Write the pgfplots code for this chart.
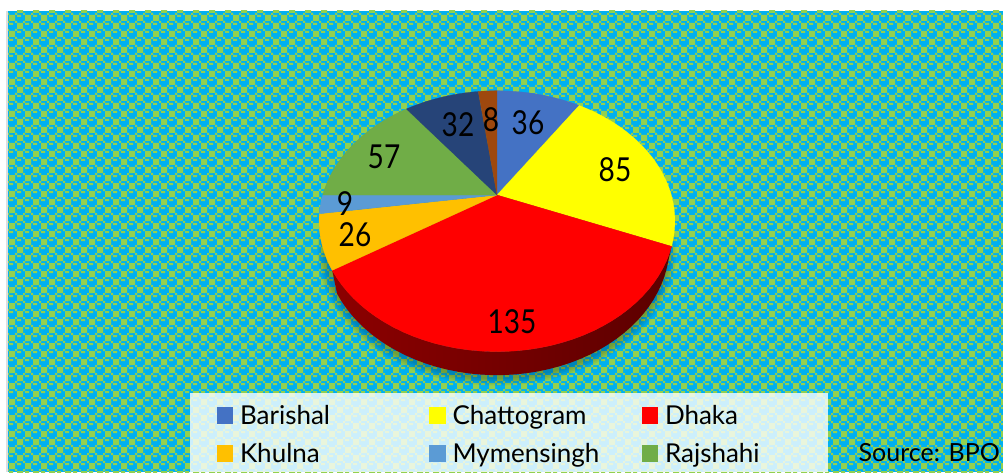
\documentclass[border=0pt]{standalone}
\usepackage{pgfplots}
\usepackage{pgfplotstable}
\usepackage{fontspec}
\pgfplotsset{compat=1.18}
\setmainfont[FakeStretch=0.85]{Lato}
\newfontfamily\legfont{Lato}
\definecolor{pblue}{HTML}{00B0F0}
\definecolor{pgreen}{HTML}{92D050}
\definecolor{cA}{HTML}{4472C4}
\definecolor{cB}{HTML}{FFFF00}
\definecolor{cC}{HTML}{FF0000}
\definecolor{cD}{HTML}{FFC000}
\definecolor{cE}{HTML}{5B9BD5}
\definecolor{cF}{HTML}{70AD47}
\definecolor{cG}{HTML}{264478}
\definecolor{cH}{HTML}{9E480E}
\newcount\TX \newcount\TY
% one rectangle of the background tile, image pixels, y down, relative to a big square
\newcommand{\tr}[4]{\pgfpathrectangle{\pgfpoint{\dimexpr\numexpr\TX+#1\relax pt\relax}{\dimexpr\numexpr472-\TY-#2-#4\relax pt\relax}}{\pgfpoint{#3pt}{#4pt}}}
\newcommand{\tile}{\tr{0}{0}{6}{6}\tr{8}{8}{6}{6}\tr{6}{6}{2}{2}\tr{14}{14}{2}{2}\tr{6}{14}{2}{2}\tr{14}{6}{2}{2}\tr{8}{0}{4}{2}\tr{0}{8}{4}{2}}
% slice angles accumulate from 12 o'clock; total of the values = 388
\newcommand{\pieX}[3]{#1*174.3*sin(#2)/(1+0.2007*cos(#2))+497}
\newcommand{\pieY}[3]{#3+195-#1*125.2*cos(#2)/(1+0.2007*cos(#2))}
\newcommand{\cum}{0}
\newcommand{\slice}[3][]{%
  \pgfmathsetmacro{\aS}{\cum/388*360}%
  \pgfmathsetmacro{\newcum}{\cum+#2}%
  \pgfmathsetmacro{\aE}{\newcum/388*360}%
  \global\let\cum\newcum
  \edef\doit{\noexpand\addplot[fill=#3,draw=#3,line width=0.2pt,#1,samples at={-1,0,...,40}]
   ({x<0 ? 497 : \pieX{1}{\aS+(\aE-\aS)*x/40}{0}},{x<0 ? 195 : \pieY{1}{\aS+(\aE-\aS)*x/40}{0}});}%
  \doit
}
\pgfplotstableread{
x y v
528 123 36
615 170 85
512 322 135
355 235 26
345 204 9
384 157 57
458 125 32
491 120 8
}\labels
\begin{document}
\begin{tikzpicture}[x=1pt,y=1pt]
% background
\fill[white] (0,0) rectangle (1003,472);
\fill[black!13] (6,0) rectangle (8,461);
\begin{scope}
\clip (8,0) rectangle (1003,461);
\fill[pblue] (8,0) rectangle (1003,461);
\pgfsetfillcolor{pgreen}
\foreach \i in {0,...,63}{\foreach \j in {0,...,30}{%
  \TX=\numexpr16*\i-7\relax \TY=\numexpr16*\j-1\relax \tile}}
\pgfusepath{fill}
\end{scope}
\begin{axis}[
  at={(0,0)},anchor=south west,
  width=1003pt,height=472pt,scale only axis,
  xmin=0,xmax=1003,ymin=0,ymax=472,y dir=reverse,
  hide axis,
  legend columns=3,
  legend cell align=left,
  legend image code/.code={\path[draw=none,#1] (0pt,-8.5pt) rectangle (16.5pt,8.5pt);},
  legend style={at={(216.5/1003,1-405/472)},anchor=north west,draw=none,fill=none,
    inner sep=0pt,outer sep=0pt,column sep=7pt,row sep=18pt,
    font=\legfont\fontsize{26}{26}\selectfont,
    nodes={inner sep=0pt,outer sep=0pt}},
]
% soft shadow
\foreach \k in {1.00,1.01,1.02,1.03,1.04}{
  \edef\doit{\noexpand\addplot[forget plot,fill=black,fill opacity=0.05,draw=none,samples at={0,4,...,360}]
   ({(\k*0.97*174.3*sin(x)/(1+0.2007*cos(x)))+497},{\k*125.2*(-cos(x))/(1+0.2007*cos(x))+218.5+\k*4});}\doit
}
% side wall of the red slice
\addplot[forget plot,left color=red!55!black,right color=red!36!black,draw=none,samples at={0,1,...,81}]
  ({x<=40 ? \pieX{1}{112.32+125.26*x/40}{0} : \pieX{0.97}{237.58-125.26*(x-41)/40}{0}},
   {x<=40 ? \pieY{1}{112.32+125.26*x/40}{0} : \pieY{1}{237.58-125.26*(x-41)/40}{23.5}});
\slice{36}{cA}\addlegendentry{\makebox[182pt][l]{Barishal}}
\slice{85}{cB}\addlegendentry{\makebox[182pt][l]{Chattogram}}
\slice{135}{cC}\addlegendentry{Dhaka}
\slice{26}{cD}\addlegendentry{\makebox[182pt][l]{Khulna}}
\slice{9}{cE}\addlegendentry{\makebox[182pt][l]{Mymensingh}}
\slice{57}{cF}\addlegendentry{Rajshahi}
\slice[forget plot]{32}{cG}
\slice[forget plot]{8}{cH}
\addplot[forget plot,draw=none,mark=none,nodes near coords,point meta=explicit symbolic,
  every node near coord/.append style={anchor=center,inner sep=0pt,font=\fontsize{33}{33}\selectfont,text=black}]
  table[x=x,y=y,meta=v]{\labels};
\fill[fill=white,fill opacity=0.8] (axis cs:190,393) rectangle (axis cs:828,472);
\node[anchor=base east,inner sep=0pt,font=\legfont\fontsize{25}{25}\selectfont] at (axis cs:1000,461) {Source: BPO};
\end{axis}
\end{tikzpicture}
\end{document}
